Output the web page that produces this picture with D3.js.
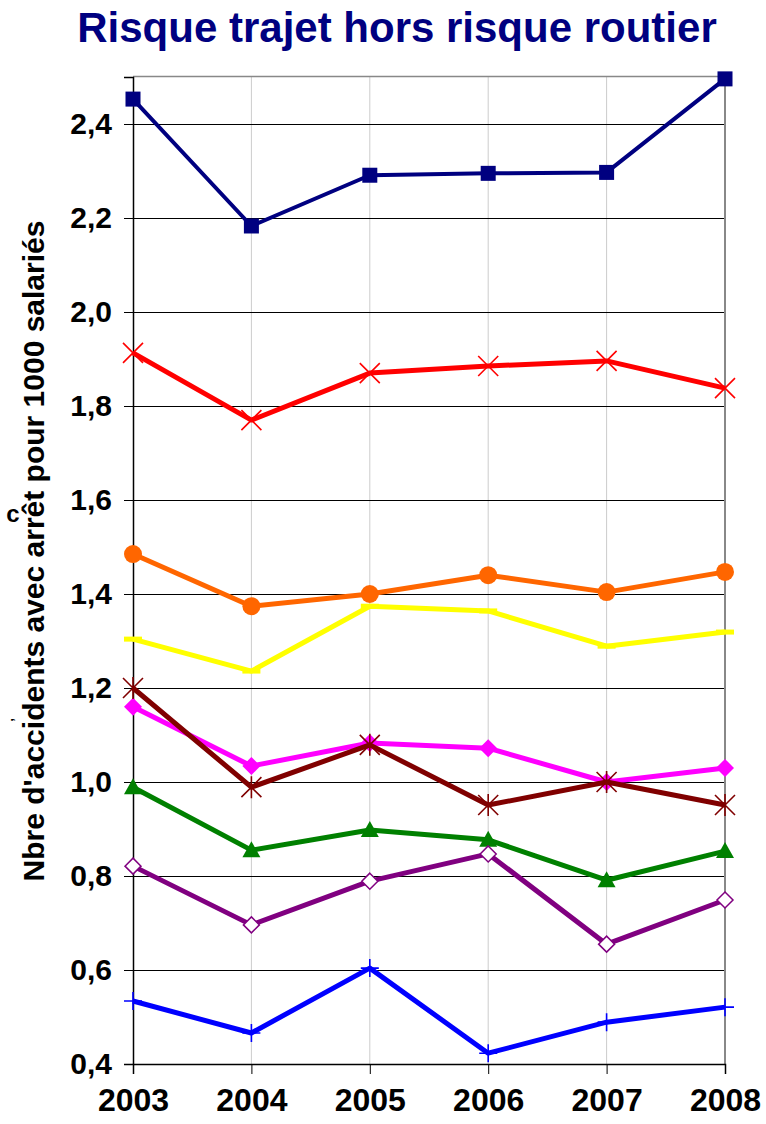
<!DOCTYPE html>
<html>
<head>
<meta charset="utf-8">
<script src="https://cdn.jsdelivr.net/npm/d3@7"></script>
<style>
html, body { margin: 0; padding: 0; background: #fff; }
svg { display: block; font-family: "Liberation Sans", Arial, sans-serif; }
</style>
</head>
<body>
<svg id="chart" width="766" height="1124"></svg>
<script>
const years = ["2003", "2004", "2005", "2006", "2007", "2008"];
const yTicks = [0.4, 0.6, 0.8, 1.0, 1.2, 1.4, 1.6, 1.8, 2.0, 2.2, 2.4];

const serieNavy    = [2.453, 2.183, 2.291, 2.295, 2.297, 2.496];
const serieRed     = [1.913, 1.770, 1.870, 1.885, 1.896, 1.838];
const serieOrange  = [1.485, 1.374, 1.400, 1.440, 1.404, 1.447];
const serieYellow  = [1.304, 1.236, 1.374, 1.364, 1.289, 1.319];
const serieMagenta = [1.160, 1.034, 1.083, 1.072, 1.000, 1.030];
const serieBrown   = [1.200, 0.989, 1.079, 0.951, 1.000, 0.951];
const serieGreen   = [0.989, 0.855, 0.898, 0.877, 0.791, 0.853];
const seriePurple  = [0.821, 0.696, 0.789, 0.847, 0.655, 0.749];
const serieBlue    = [0.534, 0.466, 0.604, 0.423, 0.489, 0.521];

const titleText = "Risque trajet hors risque routier";
const yLabelText = "Nbre d'accidents avec arrêt pour 1000 salariés";

const series = [
  { values: serieNavy,    color: "#000080", marker: "square",   width: 4 },
  { values: serieRed,     color: "#FF0000", marker: "x",        width: 5 },
  { values: serieOrange,  color: "#FF6600", marker: "circle",   width: 5 },
  { values: serieYellow,  color: "#FFFF00", marker: "dash",     width: 5 },
  { values: serieMagenta, color: "#FF00FF", marker: "diamond",  width: 5 },
  { values: serieBrown,   color: "#800000", marker: "star",     width: 5 },
  { values: serieGreen,   color: "#008000", marker: "triangle", width: 5 },
  { values: seriePurple,  color: "#800080", marker: "hdiamond", width: 5 },
  { values: serieBlue,    color: "#0000FF", marker: "plus",     width: 5 }
];

const svg = d3.select("#chart");
const pLeft = 133, pRight = 725, pTop = 77, pBottom = 1064;

const x = d3.scalePoint().domain(years).range([pLeft, pRight]);
const y = d3.scaleLinear().domain([0.4, 2.5]).range([pBottom, pTop]);
const fmt = v => d3.format(".1f")(v).replace(".", ",");

// Title
svg.append("text")
  .attr("x", 397).attr("y", 42)
  .attr("text-anchor", "middle")
  .attr("font-size", 42).attr("font-weight", "bold")
  .attr("fill", "#000080")
  .text(titleText);

// vertical gridlines
svg.append("g").selectAll("line").data(years.slice(1, -1)).join("line")
  .attr("x1", d => x(d)).attr("x2", d => x(d))
  .attr("y1", pTop).attr("y2", pBottom)
  .attr("stroke", "#cccccc").attr("stroke-width", 1);

// horizontal gridlines
svg.append("g").selectAll("line").data(yTicks.slice(1)).join("line")
  .attr("x1", pLeft).attr("x2", pRight)
  .attr("y1", d => Math.round(y(d)) + 0.5).attr("y2", d => Math.round(y(d)) + 0.5)
  .attr("stroke", "#000").attr("stroke-width", 1);

// plot border top/right
svg.append("line").attr("x1", pLeft).attr("x2", pRight).attr("y1", pTop - 0.5).attr("y2", pTop - 0.5)
  .attr("stroke", "#888").attr("stroke-width", 1.5);
svg.append("line").attr("x1", pRight).attr("x2", pRight).attr("y1", pTop - 1).attr("y2", pBottom)
  .attr("stroke", "#888").attr("stroke-width", 2);

// Y axis
const yAxis = d3.axisLeft(y).tickValues(yTicks).tickFormat(fmt).tickSize(9).tickPadding(12);
const gy = svg.append("g").attr("transform", `translate(${pLeft},0)`).call(yAxis);
gy.select(".domain").attr("stroke", "#000").attr("stroke-width", 1.5);
gy.selectAll(".tick line").attr("stroke", "#000").attr("stroke-width", 1);
gy.selectAll(".tick text").attr("font-size", 30).attr("font-weight", "bold")
  .attr("fill", "#000").attr("font-family", "Liberation Sans, Arial, sans-serif");

// X axis
const xAxis = d3.axisBottom(x).tickSize(10).tickPadding(14);
const gx = svg.append("g").attr("transform", `translate(0,${pBottom})`).call(xAxis);
gx.select(".domain").attr("stroke", "#000").attr("stroke-width", 1.5);
gx.selectAll(".tick line").attr("stroke", "#000").attr("stroke-width", 1);
gx.selectAll(".tick text").attr("font-size", 32).attr("font-weight", "bold")
  .attr("fill", "#000").attr("font-family", "Liberation Sans, Arial, sans-serif");

// Y label
svg.append("text")
  .attr("transform", "translate(44,551) rotate(-90)")
  .attr("text-anchor", "middle")
  .attr("font-size", 30).attr("font-weight", "bold")
  .attr("fill", "#000")
  .text(yLabelText);
svg.append("text")
  .attr("x", 13).attr("y", 522)
  .attr("text-anchor", "middle")
  .attr("font-size", 24).attr("font-weight", "bold").attr("fill", "#000")
  .text("c");
svg.append("text")
  .attr("transform", "translate(13,720) rotate(-90)")
  .attr("text-anchor", "middle")
  .attr("font-size", 13).attr("font-weight", "bold").attr("fill", "#000")
  .text(",");

// Series
const line = d3.line().x((d, i) => x(years[i])).y(d => y(d));

function drawMarker(g, m, cx, cy, color) {
  if (m === "square") {
    g.append("rect").attr("x", cx - 7.5).attr("y", cy - 7.5).attr("width", 15).attr("height", 15).attr("fill", color);
  } else if (m === "x") {
    g.append("path").attr("d", `M${cx-10},${cy-10}L${cx+10},${cy+10}M${cx-10},${cy+10}L${cx+10},${cy-10}`)
      .attr("stroke", color).attr("stroke-width", 1.6).attr("fill", "none");
  } else if (m === "circle") {
    g.append("circle").attr("cx", cx).attr("cy", cy).attr("r", 9).attr("fill", color);
  } else if (m === "dash") {
    g.append("rect").attr("x", cx - 9).attr("y", cy - 2.5).attr("width", 18).attr("height", 5).attr("fill", color);
  } else if (m === "diamond") {
    g.append("path").attr("d", `M${cx},${cy-9}L${cx+9},${cy}L${cx},${cy+9}L${cx-9},${cy}Z`).attr("fill", color);
  } else if (m === "star") {
    g.append("path").attr("d", `M${cx-10},${cy-10}L${cx+10},${cy+10}M${cx-10},${cy+10}L${cx+10},${cy-10}M${cx},${cy-11}L${cx},${cy+11}`)
      .attr("stroke", color).attr("stroke-width", 1.6).attr("fill", "none");
  } else if (m === "triangle") {
    g.append("path").attr("d", `M${cx},${cy-9}L${cx+9},${cy+7}L${cx-9},${cy+7}Z`).attr("fill", color);
  } else if (m === "hdiamond") {
    g.append("path").attr("d", `M${cx},${cy-8}L${cx+8},${cy}L${cx},${cy+8}L${cx-8},${cy}Z`)
      .attr("fill", "#fff").attr("stroke", color).attr("stroke-width", 1.5);
  } else if (m === "plus") {
    g.append("path").attr("d", `M${cx-9},${cy}L${cx+9},${cy}M${cx},${cy-9}L${cx},${cy+9}`)
      .attr("stroke", color).attr("stroke-width", 1.6).attr("fill", "none");
  }
}

series.forEach(s => {
  const g = svg.append("g");
  g.append("path").datum(s.values).attr("d", line)
    .attr("fill", "none").attr("stroke", s.color).attr("stroke-width", s.width)
    .attr("stroke-linejoin", "round");
  s.values.forEach((v, i) => drawMarker(g, s.marker, x(years[i]), y(v), s.color));
});
</script>
</body>
</html>
